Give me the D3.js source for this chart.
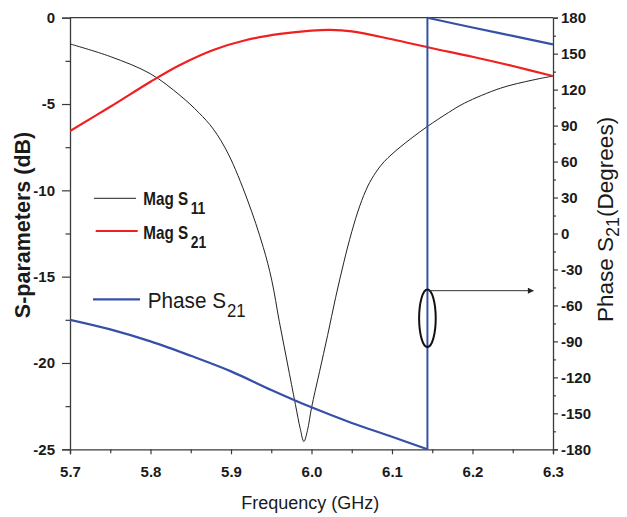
<!DOCTYPE html>
<html>
<head>
<meta charset="utf-8">
<script src="https://cdn.jsdelivr.net/npm/d3@7"></script>
<style>
  html, body { margin: 0; padding: 0; background: #fff; }
  svg { display: block; }
  text { font-family: "Liberation Sans", Arial, sans-serif; fill: #1a1a1a; }
</style>
</head>
<body>
<svg id="chart" width="627" height="517"></svg>
<script>
// ---- data ----
const freqS11 = [5.70, 5.75, 5.80, 5.8366, 5.86, 5.878, 5.8967, 5.92, 5.9401, 5.9506, 5.96, 5.97, 5.98, 5.986, 5.9905, 5.995, 6.00, 6.01, 6.02, 6.03, 6.04, 6.05, 6.06, 6.07, 6.08, 6.09, 6.10, 6.11, 6.125, 6.144, 6.17, 6.19, 6.235, 6.275, 6.30];
const magS11  = [-1.52, -2.25, -3.25, -4.5, -5.5, -6.45, -7.9, -10.5, -13.3, -15.2, -17.6, -20.0, -22.4, -23.8, -24.55, -23.9, -22.6, -20.5, -18.4, -16.2, -14.2, -12.4, -10.9, -9.75, -8.95, -8.35, -7.9, -7.5, -6.95, -6.3, -5.5, -4.95, -4.08, -3.61, -3.38];

const freqS21 = [5.70, 5.75, 5.80, 5.8366, 5.878, 5.919, 5.961, 6.00, 6.023, 6.05, 6.10, 6.15, 6.20, 6.25, 6.30];
const magS21  = [-6.56, -5.16, -3.71, -2.74, -1.87, -1.29, -0.94, -0.75, -0.71, -0.79, -1.25, -1.77, -2.26, -2.80, -3.38];

const freqPhase = [5.70, 5.75, 5.80, 5.85, 5.90, 5.95, 6.00, 6.05, 6.10, 6.144, 6.144, 6.20, 6.25, 6.30];
const phaseS21  = [-72, -80, -90, -102, -115, -130.5, -145, -158, -169.5, -180, 180, 171.8, 164.8, 157.8];

const xTicks = [5.7, 5.8, 5.9, 6.0, 6.1, 6.2, 6.3];
const xMinor = [5.75, 5.85, 5.95, 6.05, 6.15, 6.25];
const dbTicks = [0, -5, -10, -15, -20, -25];
const dbMinor = [-2.5, -7.5, -12.5, -17.5, -22.5];
const phaseTicks = [180, 150, 120, 90, 60, 30, 0, -30, -60, -90, -120, -150, -180];
const phaseMinor = [165, 135, 105, 75, 45, 15, -15, -45, -75, -105, -135, -165];

// annotation (ellipse around the phase jump + arrow to right axis)
const markFreq = 6.144, markPhase = -70.7, markPhaseSpan = 24;
const arrowPhase = -47.7, arrowEndFreq = 6.2755;

// ---- layout ----
const L = 70, R = 553, T = 17.7, B = 449.3;
const svg = d3.select("#chart");
const x = d3.scaleLinear().domain([5.7, 6.3]).range([L, R]);
const yDb = d3.scaleLinear().domain([-25, 0]).range([B, T]);
const yPh = d3.scaleLinear().domain([-180, 180]).range([B, T]);

const axisColor = "#3a3a3a";
function styleAxis(g) {
  g.select(".domain").attr("stroke", axisColor).attr("stroke-width", 1.3);
  g.selectAll(".tick line").attr("stroke", axisColor).attr("stroke-width", 1.2);
  g.selectAll(".tick text")
    .style("font-size", "15px").style("font-weight", "bold").style("fill", "#1a1a1a")
    .style("font-family", "'Liberation Sans', Arial, sans-serif");
}

// frame top
svg.append("line").attr("x1", L).attr("x2", R).attr("y1", T).attr("y2", T)
  .attr("stroke", axisColor).attr("stroke-width", 1.3);

// left axis
const gl = svg.append("g").attr("transform", `translate(${L},0)`)
  .call(d3.axisLeft(yDb).tickValues(dbTicks).tickSize(8).tickPadding(7).tickFormat(d => String(d)));
styleAxis(gl);
const glm = svg.append("g").attr("transform", `translate(${L},0)`)
  .call(d3.axisLeft(yDb).tickValues(dbMinor).tickSize(4.5).tickFormat(""));
styleAxis(glm); glm.select(".domain").remove();

// bottom axis
const gb = svg.append("g").attr("transform", `translate(0,${B})`)
  .call(d3.axisBottom(x).tickValues(xTicks).tickSize(5).tickPadding(12).tickFormat(d3.format(".1f")));
styleAxis(gb);
const gbm = svg.append("g").attr("transform", `translate(0,${B})`)
  .call(d3.axisBottom(x).tickValues(xMinor).tickSize(4).tickFormat(""));
styleAxis(gbm); gbm.select(".domain").remove();

// right axis
const gr = svg.append("g").attr("transform", `translate(${R},0)`)
  .call(d3.axisRight(yPh).tickValues(phaseTicks).tickSize(5).tickPadding(3).tickFormat(d => String(d)));
styleAxis(gr);
const grm = svg.append("g").attr("transform", `translate(${R},0)`)
  .call(d3.axisRight(yPh).tickValues(phaseMinor).tickSize(3).tickFormat(""));
styleAxis(grm); grm.select(".domain").remove();

// ---- series ----
svg.append("clipPath").attr("id", "clip").append("rect")
  .attr("x", L).attr("y", T - 2).attr("width", R - L).attr("height", B - T + 3);
const plot = svg.append("g").attr("clip-path", "url(#clip)");

const smooth = d3.curveCatmullRom.alpha(0.5);
const lineS11 = d3.line().x(d => x(d[0])).y(d => yDb(d[1])).curve(smooth);
const lineS21 = d3.line().x(d => x(d[0])).y(d => yDb(d[1])).curve(smooth);
const linePh = d3.line().x(d => x(d[0])).y(d => yPh(d[1])).curve(smooth);
const linePhJump = d3.line().x(d => x(d[0])).y(d => yPh(d[1]));

const s11 = freqS11.map((f, i) => [f, magS11[i]]);
const s21 = freqS21.map((f, i) => [f, magS21[i]]);
const ph = freqPhase.map((f, i) => [f, phaseS21[i]]);
const jump = ph.findIndex((d, i) => i > 0 && Math.abs(d[1] - ph[i - 1][1]) > 180);

plot.append("path").attr("d", lineS11(s11)).attr("fill", "none")
  .attr("stroke", "#222").attr("stroke-width", 1);
plot.append("path").attr("d", lineS21(s21)).attr("fill", "none")
  .attr("stroke", "#f02020").attr("stroke-width", 2.2);
const phColor = "#3650a8";
plot.append("path").attr("d", linePh(ph.slice(0, jump))).attr("fill", "none")
  .attr("stroke", phColor).attr("stroke-width", 2.2);
plot.append("path").attr("d", linePhJump(ph.slice(jump - 1, jump + 1))).attr("fill", "none")
  .attr("stroke", phColor).attr("stroke-width", 2);
plot.append("path").attr("d", linePh(ph.slice(jump))).attr("fill", "none")
  .attr("stroke", phColor).attr("stroke-width", 2.2);

// ---- annotation ----
const ecx = x(markFreq), ecy = yPh(markPhase);
const ery = yPh(markPhase - markPhaseSpan / 2) - yPh(markPhase + markPhaseSpan / 2);
svg.append("ellipse").attr("cx", ecx).attr("cy", ecy).attr("rx", 8.3).attr("ry", ery)
  .attr("fill", "none").attr("stroke", "#111").attr("stroke-width", 2);
svg.append("defs").append("marker").attr("id", "arr").attr("viewBox", "0 0 10 10")
  .attr("refX", 9).attr("refY", 5).attr("markerWidth", 8).attr("markerHeight", 6)
  .attr("markerUnits", "userSpaceOnUse").attr("orient", "auto")
  .append("path").attr("d", "M0,0 L10,5 L0,10 z").attr("fill", "#222");
svg.append("line").attr("x1", x(markFreq)).attr("x2", x(arrowEndFreq))
  .attr("y1", yPh(arrowPhase)).attr("y2", yPh(arrowPhase))
  .attr("stroke", "#333").attr("stroke-width", 1).attr("marker-end", "url(#arr)");

// ---- legend ----
const legend = [
  { color: "#222", w: 1, x1: 94, x2: 136, y: 198.3, tx: 143.3, ty: 205, label: "Mag S", sub: "11", bold: true },
  { color: "#f02020", w: 2.2, x1: 95.7, x2: 137.7, y: 231, tx: 143.3, ty: 239.3, label: "Mag S", sub: "21", bold: true },
  { color: phColor, w: 2.2, x1: 93, x2: 140, y: 299.3, tx: 147.7, ty: 307.7, label: "Phase S", sub: "21", bold: false }
];
legend.forEach(d => {
  svg.append("line").attr("x1", d.x1).attr("x2", d.x2).attr("y1", d.y).attr("y2", d.y)
    .attr("stroke", d.color).attr("stroke-width", d.w);
  const t = svg.append("text")
    .attr("transform", d.bold ? `translate(${d.tx},${d.ty}) scale(0.82,1)` : `translate(${d.tx},${d.ty}) scale(0.93,1)`)
    .attr("font-weight", d.bold ? "bold" : "normal")
    .attr("font-size", d.bold ? 18.6 : 22.3);
  t.append("tspan").text(d.label);
  t.append("tspan").attr("dx", d.bold ? 3 : 1).attr("dy", d.bold ? 8.5 : 9)
    .attr("font-size", d.bold ? 17 : 18).text(d.sub);
});

// ---- axis titles ----
svg.append("text").attr("x", 310.3).attr("y", 509).attr("text-anchor", "middle")
  .attr("font-size", 18).text("Frequency (GHz)");
svg.append("text").attr("transform", "translate(30,225) rotate(-90)").attr("text-anchor", "middle")
  .attr("font-size", 21.5).attr("font-weight", "bold").text("S-parameters (dB)");
const rt = svg.append("text").attr("transform", "translate(613,322) rotate(-90)").attr("text-anchor", "start")
  .attr("font-size", 22.5);
rt.append("tspan").text("Phase S");
rt.append("tspan").attr("dy", 6).attr("font-size", 18).text("21");
rt.append("tspan").attr("dy", -6).text("(Degrees)");
</script>
</body>
</html>
